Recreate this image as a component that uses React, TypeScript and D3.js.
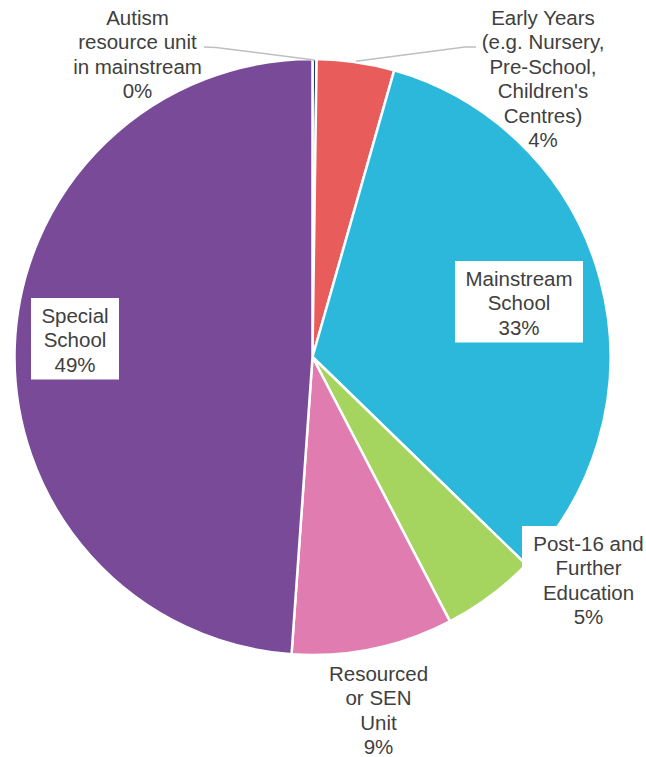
import React from "react";
import * as d3 from "d3";

const categories = [
  "Autism resource unit in mainstream",
  "Early Years (e.g. Nursery, Pre-School, Children's Centres)",
  "Mainstream School",
  "Post-16 and Further Education",
  "Resourced or SEN Unit",
  "Special School",
];
const values = [0.22, 4.2, 32.85, 5.1, 8.75, 48.88];
const percentLabels = ["0%", "4%", "33%", "5%", "9%", "49%"];
const labelLines = [
  ["Autism", "resource unit", "in mainstream"],
  ["Early Years", "(e.g. Nursery,", "Pre-School,", "Children's", "Centres)"],
  ["Mainstream", "School"],
  ["Post-16 and", "Further", "Education"],
  ["Resourced", "or SEN", "Unit"],
  ["Special", "School"],
];
const colors = ["#1F3864", "#E95C5C", "#2CB8DB", "#A6D55F", "#E07CB0", "#784A98"];

// layout of labels (center x, first line center y, boxed?)
const labelLayout = [
  { x: 137.5, y: 17, box: false },
  { x: 543, y: 17, box: false },
  { x: 519, y: 278, box: true },
  { x: 588.5, y: 543, box: true },
  { x: 378.5, y: 673, box: false },
  { x: 75, y: 315, box: true },
];

const W = 646;
const H = 757;
const cx = 312.5;
const cy = 357;
const R = 298;
const LH = 24.5;
const FS = 20.5;

export default function App() {
  const pie = d3.pie<number>().sort(null).value((d) => d);
  const arcs = pie(values);
  const arcGen = d3.arc<d3.PieArcDatum<number>>().innerRadius(0).outerRadius(R);

  const a0 = arcs[0];
  const a1 = arcs[1];
  const mid0 = (a0.startAngle + a0.endAngle) / 2;
  const mid1 = (a1.startAngle + a1.endAngle) / 2;
  const p0: [number, number] = [cx + Math.sin(mid0) * (R - 1), cy - Math.cos(mid0) * (R - 1)];
  const p1: [number, number] = [cx + Math.sin(mid1) * (R + 1), cy - Math.cos(mid1) * (R + 1)];
  const line = d3.line();
  const leader0 = line([[204, 47], [216, 47.5], p0]);
  const leader1 = line([p1, [465, 47], [476, 47]]);

  const boxW = [0, 0, 128, 0, 0, 88];

  return (
    <div style={{ position: "absolute", left: 0, top: 0 }}>
      <svg width={W} height={H} style={{ display: "block" }}>
        <rect width={W} height={H} fill="#fff" />
        <g transform={`translate(${cx},${cy})`}>
          {arcs.map((a, i) => (
            <path key={i} d={arcGen(a) || ""} fill={colors[i]} stroke="#fff" strokeWidth={2.5} strokeLinejoin="round" />
          ))}
        </g>
        <path d={leader0 || ""} fill="none" stroke="#BFBFBF" strokeWidth={1.5} />
        <path d={leader1 || ""} fill="none" stroke="#BFBFBF" strokeWidth={1.5} />
        {labelLayout.map((L, i) => {
          const lines = [...labelLines[i], percentLabels[i]];
          return (
            <g key={i}>
              {L.box && i !== 3 && (
                <rect x={L.x - boxW[i] / 2} y={L.y - 17} width={boxW[i]} height={lines.length * LH + 8} fill="#fff" />
              )}
              {L.box && i === 3 && (
                <rect x={522} y={526} width={W - 522} height={lines.length * LH + 8} fill="#fff" />
              )}
              <text
                fontFamily="Liberation Sans, Arial, sans-serif"
                fontSize={FS}
                fill="#404040"
                textAnchor="middle"
              >
                {lines.map((s, j) => (
                  <tspan key={j} x={L.x} y={L.y + j * LH} dominantBaseline="central">
                    {s}
                  </tspan>
                ))}
              </text>
            </g>
          );
        })}
      </svg>
    </div>
  );
}
